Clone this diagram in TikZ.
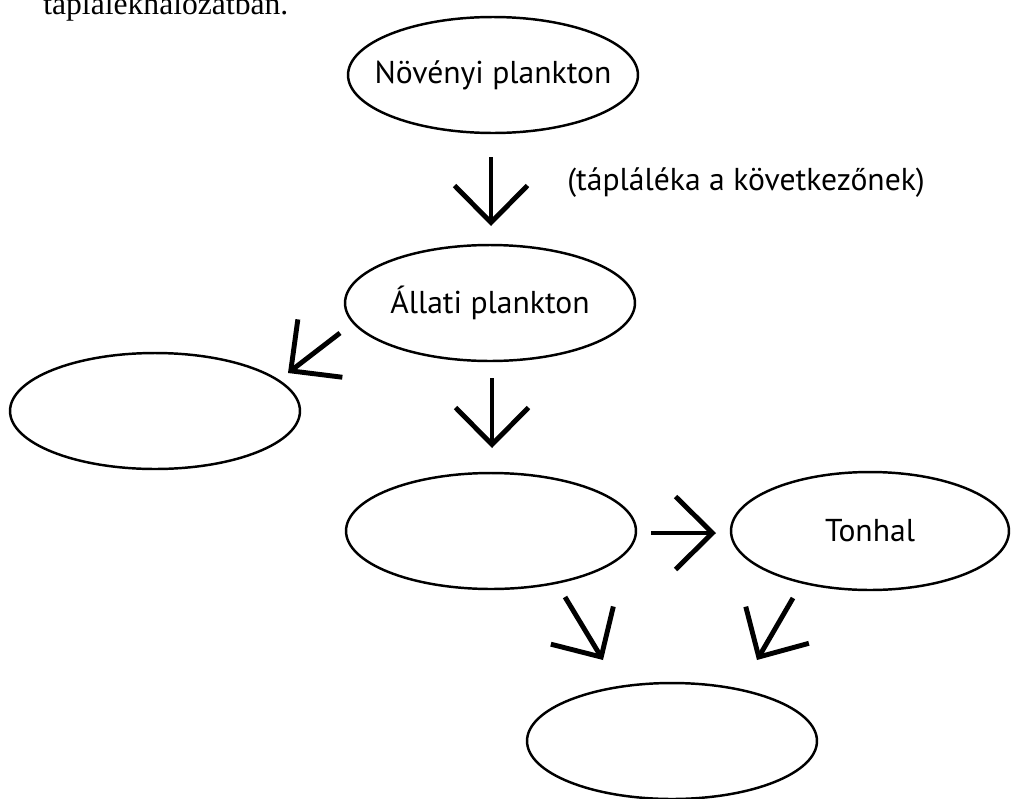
\documentclass[tikz,border=0pt]{standalone}
\usepackage{fontspec}
\setmainfont{PT Sans}
\newfontfamily\cimbetu{Liberation Serif}
\usetikzlibrary{shapes.geometric,arrows.meta}

\begin{document}
\begin{tikzpicture}[x=0.02cm, y=-0.02cm, line cap=round, line join=round,
    lanc/.style={draw, ellipse, line width=1.4pt, inner sep=0pt,
        minimum width=5.8cm, minimum height=2.32cm, font=\fontsize{18}{21}\selectfont},
    nyil/.style={line width=2.8pt, line cap=butt, line join=miter,
        -{Straight Barb[length=0.74cm, width=1.46cm, line cap=butt]}}]
    % keret
    \useasboundingbox (0,0) rectangle (1011,798);
    \clip (0,0) rectangle (1011,798);

    % levagott cimsor
    \node[anchor=base west, inner sep=0pt, font=\cimbetu\fontsize{18}{20}\selectfont]
        (cim) at (43,14) {táplálékhálózatban.};

    % tapleklanc elemei
    \node[lanc] (noveny) at (493,75)  {\makebox[0pt]{Növényi plankton}};
    \node[lanc] (allati) at (490,303) {\makebox[0pt]{Állati plankton}};
    \node[lanc] (bal)    at (155,411) {};
    \node[lanc] (kozep)  at (491,531) {};
    \node[lanc, minimum width=5.56cm, minimum height=2.36cm]
        (tonhal) at (870,531) {\makebox[0pt]{Tonhal}};
    \node[lanc] (also)   at (672,741) {};

    % magyarazat
    \node[anchor=west, inner sep=0pt, font=\fontsize{18}{21}\selectfont]
        (magyar) at (567,183) {(tápláléka a következőnek)};

    % nyilak vegpontjai
    \coordinate (n1a) at (491,157); \coordinate (n1b) at (491,226);
    \coordinate (n2a) at (492,378); \coordinate (n2b) at (492,448);
    \coordinate (n3a) at (340,333); \coordinate (n3b) at (288,373);
    \coordinate (n4a) at (651,533); \coordinate (n4b) at (716,533);
    \coordinate (n5a) at (565,597); \coordinate (n5b) at (603,660);
    \coordinate (n6a) at (793,598); \coordinate (n6b) at (757,660);

    % nyilak
    \draw[nyil] (n1a) -- (n1b);
    \draw[nyil] (n2a) -- (n2b);
    \draw[nyil] (n3a) -- (n3b);
    \draw[nyil] (n4a) -- (n4b);
    \draw[nyil] (n5a) -- (n5b);
    \draw[nyil] (n6a) -- (n6b);
\end{tikzpicture}
\end{document}
